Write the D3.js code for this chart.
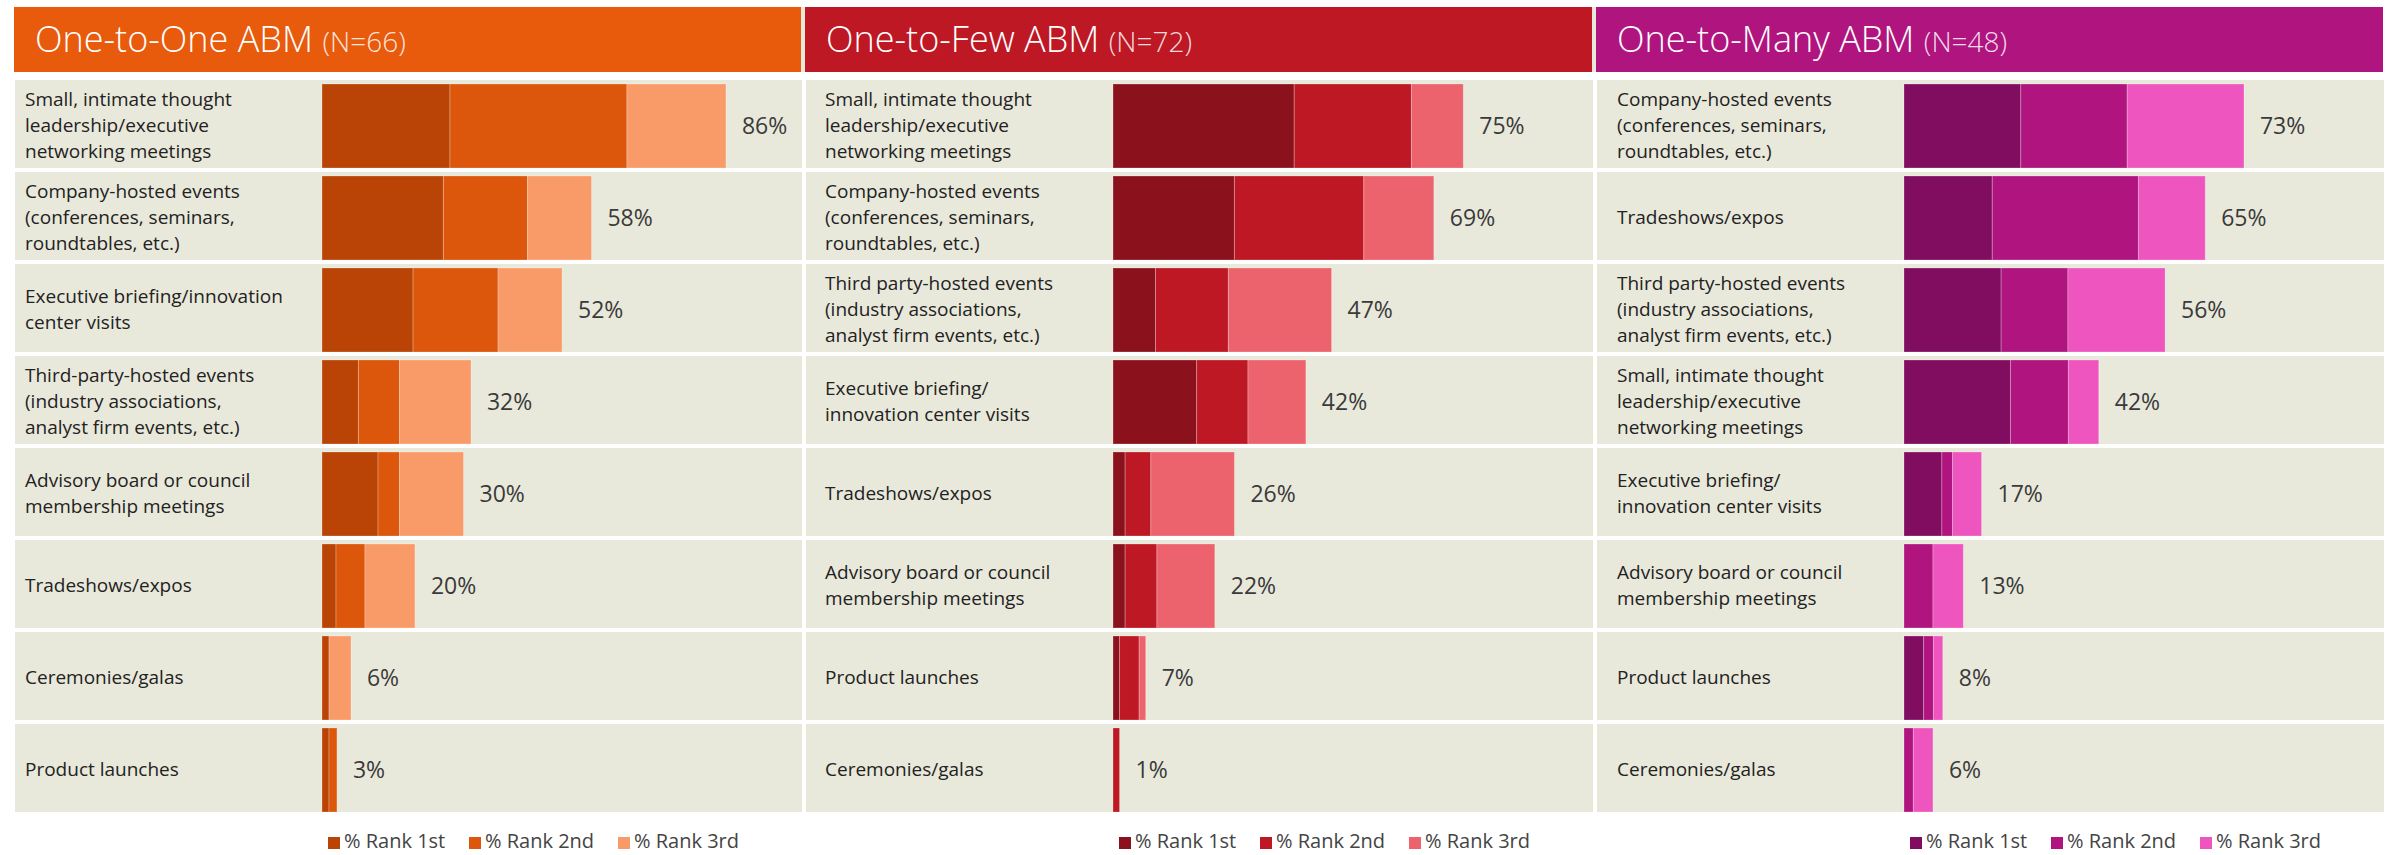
<!DOCTYPE html>
<html>
<head>
<meta charset="utf-8">
<script src="https://cdn.jsdelivr.net/npm/d3@7"></script>
<style>
  body { margin: 0; background: #fff; }
  text { font-family: "Open Sans", Lato, sans-serif; }
</style>
</head>
<body>
<script>
const width = 2392, height = 855

// panel titles and sample sizes
const panelTitles = ["One-to-One ABM", "One-to-Few ABM", "One-to-Many ABM"]
const panelN = ["(N=66)", "(N=72)", "(N=48)"]
const legendLabels = ["% Rank 1st", "% Rank 2nd", "% Rank 3rd"]

// One-to-One
const oneCategories = [
    "Small, intimate thought\nleadership/executive\nnetworking meetings",
    "Company-hosted events\n(conferences, seminars,\nroundtables, etc.)",
    "Executive briefing/innovation\ncenter visits",
    "Third-party-hosted events\n(industry associations,\nanalyst firm events, etc.)",
    "Advisory board or council\nmembership meetings",
    "Tradeshows/expos",
    "Ceremonies/galas",
    "Product launches"]
const oneRank1 = [27.4, 26, 19.5, 7.8, 12, 3, 1.5, 1.5]
const oneRank2 = [37.9, 18, 18.2, 8.8, 4.6, 6.2, 0, 1.7]
const oneRank3 = [21.2, 13.7, 13.7, 15.3, 13.7, 10.7, 4.7, 0]
const oneTotals = [86, 58, 52, 32, 30, 20, 6, 3]

// One-to-Few
const fewCategories = [
    "Small, intimate thought\nleadership/executive\nnetworking meetings",
    "Company-hosted events\n(conferences, seminars,\nroundtables, etc.)",
    "Third party-hosted events\n(industry associations,\nanalyst firm events, etc.)",
    "Executive briefing/\ninnovation center visits",
    "Tradeshows/expos",
    "Advisory board or council\nmembership meetings",
    "Product launches",
    "Ceremonies/galas"]
const fewRank1 = [38.8, 26, 9.1, 17.9, 2.6, 2.6, 1.4, 0]
const fewRank2 = [25.1, 27.7, 15.6, 11, 5.5, 6.8, 4.2, 1.4]
const fewRank3 = [11.1, 15, 22.1, 12.4, 17.9, 12.4, 1.4, 0]
const fewTotals = [75, 69, 47, 42, 26, 22, 7, 1]

// One-to-Many
const manyCategories = [
    "Company-hosted events\n(conferences, seminars,\nroundtables, etc.)",
    "Tradeshows/expos",
    "Third party-hosted events\n(industry associations,\nanalyst firm events, etc.)",
    "Small, intimate thought\nleadership/executive\nnetworking meetings",
    "Executive briefing/\ninnovation center visits",
    "Advisory board or council\nmembership meetings",
    "Product launches",
    "Ceremonies/galas"]
const manyRank1 = [25, 18.9, 20.8, 22.8, 8.1, 0, 4.2, 0]
const manyRank2 = [22.8, 31.3, 14.3, 12.4, 2.3, 6.2, 2.1, 2]
const manyRank3 = [25, 14.3, 20.8, 6.5, 6.2, 6.5, 2, 4.2]
const manyTotals = [73, 65, 56, 42, 17, 13, 8, 6]

const panels = [
    { cats: oneCategories, r1: oneRank1, r2: oneRank2, r3: oneRank3, totals: oneTotals,
      header: "#e85a0c", colors: ["#b94405", "#dc560b", "#f89b69"], left: 14, labelX: 25 },
    { cats: fewCategories, r1: fewRank1, r2: fewRank2, r3: fewRank3, totals: fewTotals,
      header: "#be1824", colors: ["#8b121c", "#be1824", "#ec636d"], left: 805, labelX: 825 },
    { cats: manyCategories, r1: manyRank1, r2: manyRank2, r3: manyRank3, totals: manyTotals,
      header: "#b0157f", colors: ["#800d5f", "#b0157f", "#ee55be"], left: 1596, labelX: 1617 }
]

const panelWidth = 788
const barOffset = 308

const svg = d3.select('body').append('svg')
    .attr('width', width)
    .attr('height', height)

// row positions
const yScale = d3.scaleBand()
    .domain(d3.range(8))
    .range([80, 812])
    .paddingInner(4 / 92)

// 0..100% -> px
const xScale = d3.scaleLinear()
    .domain([0, 100])
    .range([0, 467])

const stack = d3.stack().keys(['r1', 'r2', 'r3'])

// little beige strips between the headers
svg.selectAll('.sep').data([801, 1591])
    .enter().append('rect')
    .attr('x', d => d)
    .attr('y', 7)
    .attr('width', 5)
    .attr('height', 65)
    .attr('fill', '#e9e9db')

panels.forEach((p, pi) => {
    const g = svg.append('g')
    const barX = p.left + barOffset

    // header
    g.append('rect')
        .attr('x', p.left)
        .attr('y', 7)
        .attr('width', panelWidth - 1)
        .attr('height', 65)
        .attr('fill', p.header)

    const title = g.append('text')
        .attr('x', p.left + 21)
        .attr('y', 52)
        .attr('fill', '#fff')
        .style('font-size', '36px')
        .style('font-weight', 300)
    title.append('tspan').text(panelTitles[pi] + ' ')
    title.append('tspan')
        .style('font-size', '28px')
        .attr('fill-opacity', 0.85)
        .text(panelN[pi])

    // table for the stack
    const table = p.cats.map((c, i) => ({ i: i, r1: p.r1[i], r2: p.r2[i], r3: p.r3[i] }))
    const series = stack(table)

    // row backgrounds
    g.selectAll('.row').data(table)
        .enter().append('rect')
        .attr('x', p.left + 1)
        .attr('y', d => yScale(d.i))
        .attr('width', panelWidth - 1)
        .attr('height', yScale.bandwidth())
        .attr('fill', '#e9e9db')

    // category labels
    const labels = g.selectAll('.lab').data(table)
        .enter().append('text')
        .attr('fill', '#222')
        .style('font-size', '19px')
    labels.each(function (d) {
        const lines = p.cats[d.i].split('\n')
        const cy = yScale(d.i) + yScale.bandwidth() / 2
        d3.select(this).selectAll('tspan').data(lines)
            .enter().append('tspan')
            .attr('x', p.labelX)
            .attr('y', (l, k) => cy + 8 + (k - (lines.length - 1) / 2) * 25.7)
            .text(l => l)
    })

    // stacked bars
    g.selectAll('.serie').data(series)
        .enter().append('g')
        .attr('fill', (s, k) => p.colors[k])
        .selectAll('rect').data(s => s)
        .enter().append('rect')
        .attr('x', d => barX + xScale(d[0]))
        .attr('y', d => yScale(d.data.i) + 4)
        .attr('width', d => xScale(d[1]) - xScale(d[0]))
        .attr('height', yScale.bandwidth() - 4)
        .attr('stroke', 'rgba(255,255,255,0.25)')
        .attr('stroke-width', d => d[1] > d[0] ? 1 : 0)

    // total labels
    g.selectAll('.val').data(table)
        .enter().append('text')
        .attr('x', d => barX + xScale(d.r1 + d.r2 + d.r3) + 16)
        .attr('y', d => yScale(d.i) + yScale.bandwidth() / 2 + 10)
        .attr('fill', '#3a3a3a')
        .style('font-size', '23px')
        .text(d => p.totals[d.i] + '%')

    // legend
    const legendOffsets = [0, 141, 290]
    const legend = g.selectAll('.leg').data(legendLabels)
        .enter().append('g')
        .attr('transform', (d, k) => 'translate(' + (barX + 6 + legendOffsets[k]) + ',837)')
    legend.append('rect')
        .attr('width', 12)
        .attr('height', 12)
        .attr('fill', (d, k) => p.colors[k])
    legend.append('text')
        .attr('x', 16)
        .attr('y', 11)
        .attr('fill', '#444')
        .style('font-size', '20px')
        .text(d => d)
})
</script>
</body>
</html>
